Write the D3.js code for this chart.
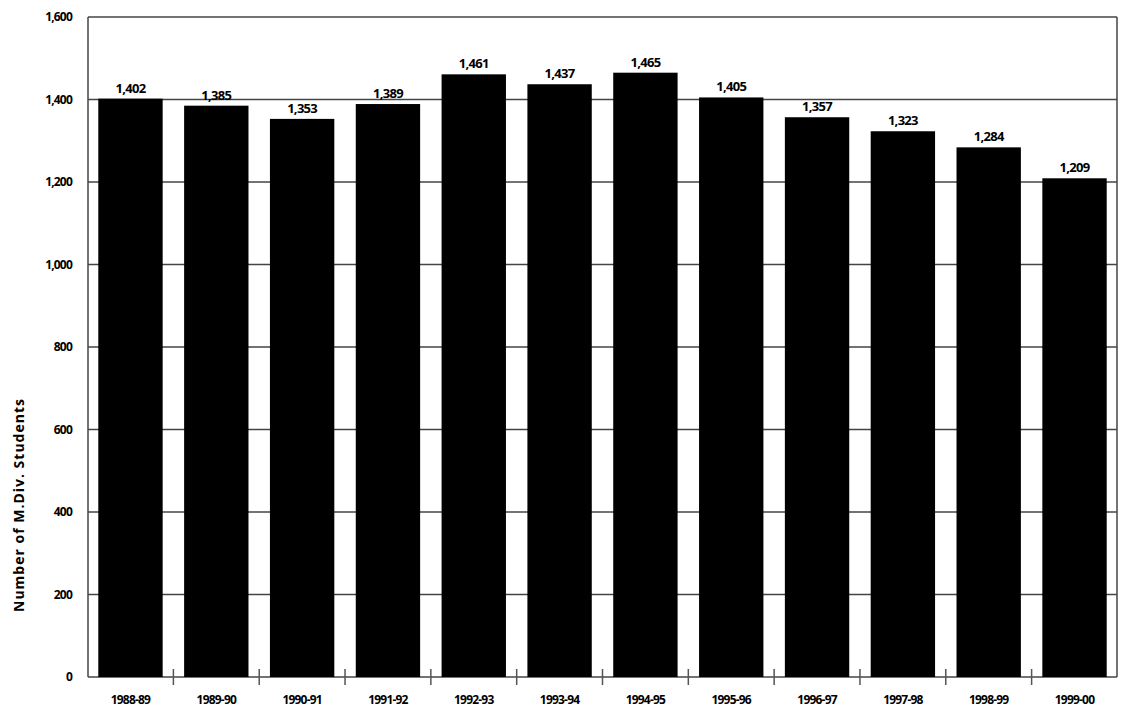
<html>
<head>
<script src="https://cdn.jsdelivr.net/npm/d3@7"></script>
<style>body{margin:0;background:#fff}</style>
</head>
<body>
<script>
var years = ["1988-89","1989-90","1990-91","1991-92","1992-93","1993-94","1994-95","1995-96","1996-97","1997-98","1998-99","1999-00"];
var students = [1402,1385,1353,1389,1461,1437,1465,1405,1357,1323,1284,1209];
var yTicks = [0,200,400,600,800,1000,1200,1400,1600];

var W = 1127, H = 716;
var m = {left: 88, right: 10, top: 17, bottom: 39};
var svg = d3.select("body").append("svg").attr("width", W).attr("height", H)
  .style("font-family", "'Open Sans', sans-serif");

var x = d3.scaleBand().domain(years).range([m.left, W - m.right]).paddingInner(0.25).paddingOuter(0.12);
var y = d3.scaleLinear().domain([0, 1600]).range([H - m.bottom, m.top]);

// gridlines
svg.append("g").selectAll("line").data(yTicks).enter().append("line")
  .attr("x1", m.left).attr("x2", W - m.right)
  .attr("y1", function(d){ return y(d); }).attr("y2", function(d){ return y(d); })
  .attr("stroke", "#444").attr("stroke-width", 1.5);
svg.append("line").attr("x1", m.left).attr("x2", m.left).attr("y1", y(1600)).attr("y2", y(0))
  .attr("stroke", "#444").attr("stroke-width", 1.5);
svg.append("line").attr("x1", W - m.right).attr("x2", W - m.right).attr("y1", y(1600)).attr("y2", y(0))
  .attr("stroke", "#444").attr("stroke-width", 1.5);

// y labels
svg.append("g").selectAll("text").data(yTicks).enter().append("text")
  .attr("x", m.left - 16).attr("y", function(d){ return y(d) + 4; })
  .attr("text-anchor", "end").attr("font-size", 12).attr("font-weight", "bold")
  .attr("letter-spacing", -0.8)
  .text(function(d){ return d3.format(",")(d); });

svg.append("text").attr("transform", "translate(24,505) rotate(-90)")
  .attr("text-anchor", "middle").attr("font-size", 14).attr("font-weight", "bold")
  .attr("letter-spacing", 1)
  .text("Number of M.Div. Students");

// bars
svg.append("g").selectAll("rect").data(students).enter().append("rect")
  .attr("x", function(d, i){ return x(years[i]); })
  .attr("width", x.bandwidth())
  .attr("y", function(d){ return y(d); })
  .attr("height", function(d){ return y(0) - y(d); })
  .attr("fill", "#000");

svg.append("g").selectAll("text").data(students).enter().append("text")
  .attr("x", function(d, i){ return x(years[i]) + x.bandwidth() / 2; })
  .attr("y", function(d){ return y(d) - 6; })
  .attr("text-anchor", "middle").attr("font-size", 13).attr("font-weight", "bold")
  .attr("letter-spacing", -0.7)
  .text(function(d){ return d3.format(",")(d); });

// x ticks between categories
var step = x.step();
svg.append("g").selectAll("line").data(years.slice(1)).enter().append("line")
  .attr("x1", function(d){ return x(d) - step * x.paddingInner() / 2; })
  .attr("x2", function(d){ return x(d) - step * x.paddingInner() / 2; })
  .attr("y1", y(0) - 8).attr("y2", y(0) + 8)
  .attr("stroke", "#555").attr("stroke-width", 1.5);

svg.append("g").selectAll("text").data(years).enter().append("text")
  .attr("x", function(d){ return x(d) + x.bandwidth() / 2; })
  .attr("y", H - 12)
  .attr("text-anchor", "middle").attr("font-size", 12).attr("font-weight", "bold")
  .attr("letter-spacing", -0.8)
  .text(function(d){ return d; });
</script>
</body>
</html>
